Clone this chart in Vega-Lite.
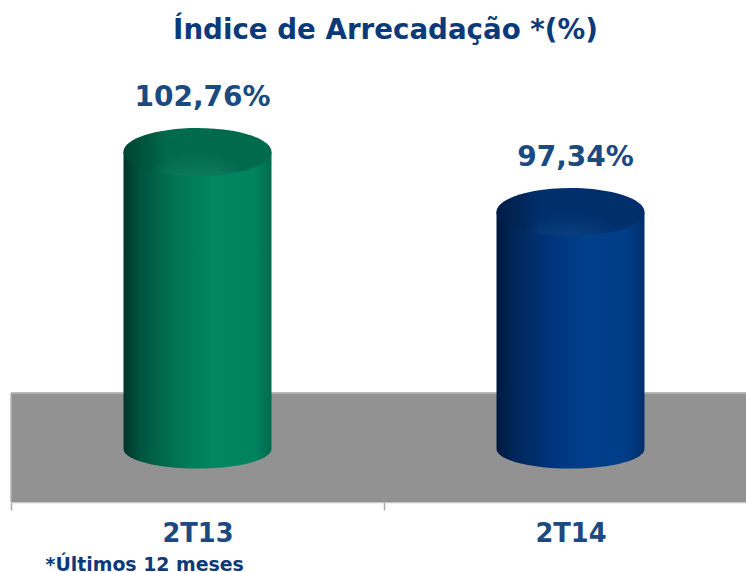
{
"$schema":"https://vega.github.io/schema/vega-lite/v6.json",
"autosize":{"type":"none"},
"width":735,"height":442,
"padding":{"left":11,"top":60,"right":0,"bottom":70},
"background":"white",
"title":{"text":"Índice de Arrecadação *(%)","font":"DejaVu Sans","fontWeight":"bold","fontSize":27.7,"color":"#0b3a7a","anchor":"middle","dx":7,"offset":15},
"config":{"view":{"stroke":null}},
"data":{"values":[
{"periodo":"2T13","valor":102.76,"base":75.93,"chao_topo":80.99,"rotulo":"102,76%"},
{"periodo":"2T14","valor":97.34,"base":75.93,"chao_topo":80.99,"rotulo":"97,34%"}
]},
"encoding":{
"x":{"field":"periodo","type":"nominal","sort":null,
"scale":{"range":[0,746],"paddingInner":0,"paddingOuter":0},
"axis":{"title":"*Últimos 12 meses","titleFont":"DejaVu Sans","titleFontWeight":"bold","titleFontSize":18.9,"titleColor":"#0b3a7a","titleX":34,"titleY":68,"titleAlign":"left","titleAnchor":null,"titleBaseline":"alphabetic","labelAngle":0,"labelFont":"DejaVu Sans","labelFontWeight":"bold","labelFontSize":25.7,"labelColor":"#1a4a80","labelPadding":11,"tickBand":"extent","tickSize":8,"tickColor":"#a8a8a8","tickWidth":1.5,"domainColor":"#c4c4c4","domainWidth":1.5,"grid":false}}
},
"layer":[
{"mark":{"type":"bar","width":{"band":1},"fill":"#929292"},
 "encoding":{"y":{"field":"chao_topo","type":"quantitative","scale":{"domain":[71.14,111.07],"nice":false,"zero":false},"axis":null},"y2":{"datum":71.14}}},
{"mark":{"type":"rule","stroke":"#b4b4b4","strokeWidth":1.5},
 "encoding":{"x":{},"y":{"field":"chao_topo","type":"quantitative"}}},
{"transform":[{"filter":"datum.periodo==='2T13'"}],
 "mark":{"type":"rule","stroke":"#b4b4b4","strokeWidth":1.5},
 "encoding":{"x":{"field":"periodo","type":"nominal","sort":null,"bandPosition":0},"y":{"field":"chao_topo","type":"quantitative"},"y2":{"datum":71.14}}},

{"transform":[{"filter":"datum.periodo==='2T13'"}],
 "layer":[
 {"mark":{"type":"bar","width":148,"fill":{"gradient":"linear","x1":0,"y1":0,"x2":1,"y2":0,"stops":[{"offset":0,"color":"#00352a"},{"offset":0.12,"color":"#00553f"},{"offset":0.35,"color":"#007452"},{"offset":0.6,"color":"#008661"},{"offset":0.88,"color":"#008460"},{"offset":1,"color":"#00694f"}]}},
  "encoding":{"y":{"field":"valor","type":"quantitative"},"y2":{"field":"base"}}},
 {"mark":{"type":"point","filled":true,"opacity":1,"size":21904,"shape":"M-1,0 A1,0.265 0 0 0 1,0 Z","fill":{"gradient":"linear","x1":0,"y1":0,"x2":1,"y2":0,"stops":[{"offset":0,"color":"#00352a"},{"offset":0.12,"color":"#00553f"},{"offset":0.35,"color":"#007452"},{"offset":0.6,"color":"#008661"},{"offset":0.88,"color":"#008460"},{"offset":1,"color":"#00694f"}]}},
  "encoding":{"y":{"field":"base","type":"quantitative"}}},
 {"mark":{"type":"point","filled":true,"opacity":1,"size":21904,"shape":"M-1,0 A1,0.324 0 1 1 1,0 A1,0.324 0 1 1 -1,0 Z","fill":{"gradient":"radial","x1":0.5,"y1":1,"r1":0,"x2":0.5,"y2":1,"r2":0.5,"stops":[{"offset":0,"color":"#32a07e"},{"offset":0.4,"color":"#178967"},{"offset":1,"color":"#006a4c"}]}},
  "encoding":{"y":{"field":"valor","type":"quantitative"}}},
 {"mark":{"type":"point","filled":true,"opacity":1,"size":21904,"shape":"M-1,0 A1,0.324 0 1 1 1,0 A1,0.324 0 1 1 -1,0 Z","fill":{"gradient":"linear","x1":0,"y1":0,"x2":1,"y2":0,"stops":[{"offset":0,"color":"rgba(0,30,20,0.5)"},{"offset":0.3,"color":"rgba(0,30,20,0)"},{"offset":1,"color":"rgba(0,30,20,0)"}]}},
  "encoding":{"y":{"field":"valor","type":"quantitative"}}}
 ]},

{"transform":[{"filter":"datum.periodo==='2T14'"}],
 "layer":[
 {"mark":{"type":"bar","width":148,"fill":{"gradient":"linear","x1":0,"y1":0,"x2":1,"y2":0,"stops":[{"offset":0,"color":"#001a3f"},{"offset":0.12,"color":"#002658"},{"offset":0.35,"color":"#00337a"},{"offset":0.6,"color":"#003f8b"},{"offset":0.88,"color":"#003d87"},{"offset":1,"color":"#002e6c"}]}},
  "encoding":{"y":{"field":"valor","type":"quantitative"},"y2":{"field":"base"}}},
 {"mark":{"type":"point","filled":true,"opacity":1,"size":21904,"shape":"M-1,0 A1,0.265 0 0 0 1,0 Z","fill":{"gradient":"linear","x1":0,"y1":0,"x2":1,"y2":0,"stops":[{"offset":0,"color":"#001a3f"},{"offset":0.12,"color":"#002658"},{"offset":0.35,"color":"#00337a"},{"offset":0.6,"color":"#003f8b"},{"offset":0.88,"color":"#003d87"},{"offset":1,"color":"#002e6c"}]}},
  "encoding":{"y":{"field":"base","type":"quantitative"}}},
 {"mark":{"type":"point","filled":true,"opacity":1,"size":21904,"shape":"M-1,0 A1,0.324 0 1 1 1,0 A1,0.324 0 1 1 -1,0 Z","fill":{"gradient":"radial","x1":0.5,"y1":1,"r1":0,"x2":0.5,"y2":1,"r2":0.5,"stops":[{"offset":0,"color":"#2560a8"},{"offset":0.4,"color":"#124a90"},{"offset":1,"color":"#002f6c"}]}},
  "encoding":{"y":{"field":"valor","type":"quantitative"}}},
 {"mark":{"type":"point","filled":true,"opacity":1,"size":21904,"shape":"M-1,0 A1,0.324 0 1 1 1,0 A1,0.324 0 1 1 -1,0 Z","fill":{"gradient":"linear","x1":0,"y1":0,"x2":1,"y2":0,"stops":[{"offset":0,"color":"rgba(0,10,30,0.5)"},{"offset":0.3,"color":"rgba(0,10,30,0)"},{"offset":1,"color":"rgba(0,10,30,0)"}]}},
  "encoding":{"y":{"field":"valor","type":"quantitative"}}}
 ]},

{"mark":{"type":"text","font":"DejaVu Sans","fontWeight":"bold","fontSize":28,"color":"#1a4a80","dx":5,"dy":-46,"baseline":"alphabetic"},
 "encoding":{"y":{"field":"valor","type":"quantitative"},"text":{"field":"rotulo"}}}
]
}
